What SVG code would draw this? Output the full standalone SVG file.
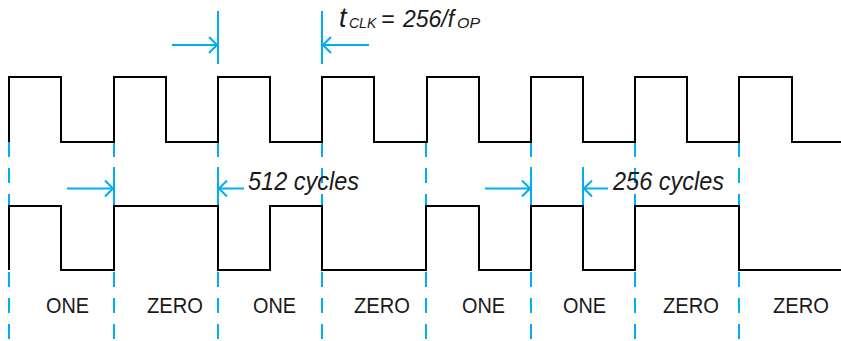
<svg xmlns="http://www.w3.org/2000/svg" width="841" height="341" viewBox="0 0 841 341">
<style>
.wave{fill:none;stroke:#000;stroke-width:2;stroke-linejoin:miter}
.guide{fill:none;stroke:#00AEEF;stroke-width:2;stroke-dasharray:15 11}
.solid{fill:none;stroke:#00AEEF;stroke-width:2}
.lbl{font-family:"Liberation Sans",Arial,sans-serif;font-size:22px;fill:#1a1a1a}
.it{font-family:"Liberation Sans",Arial,sans-serif;font-style:italic;fill:#1a1a1a}
.sub{font-size:14px}
</style>
<defs>
<marker id="ah" viewBox="0 0 10 18" refX="9" refY="9" markerWidth="10" markerHeight="18" markerUnits="userSpaceOnUse" orient="auto">
<path d="M1,1 L9,9 L1,17" fill="none" stroke="#00AEEF" stroke-width="2"/>
</marker>
</defs>
<rect width="841" height="341" fill="#fff"/>
<g id="guides">
<path class="guide" d="M9,142V341M114,142V341M218,142V341M322,142V341M426,142V341M531,142V341M635,142V341M739,142V341"/>
<path class="solid" d="M218,11V64M322,11V64M114,167V206M218,167V206M531,167V206M583,167V206"/>
</g>
<g id="clock-wave">
<path class="wave" d="M9,142V77H61V142H114V77H166V142H218V77H270V142H322V77H374V142H427V77H479V142H531V77H583V142H635V77H687V142H739V77H792V142H841"/>
</g>
<g id="data-wave">
<path class="wave" d="M9,270V206H61V270H114V206H218V270H270V206H322V270H426V206H479V270H531V206H583V270H635V206H739V270H841"/>
</g>
<g id="connectors">
<line class="solid" x1="172" y1="45" x2="217" y2="45" marker-end="url(#ah)"/>
<line class="solid" x1="369" y1="45" x2="323" y2="45" marker-end="url(#ah)"/>
<line class="solid" x1="67" y1="188.5" x2="113" y2="188.5" marker-end="url(#ah)"/>
<line class="solid" x1="244" y1="188.5" x2="219" y2="188.5" marker-end="url(#ah)"/>
<line class="solid" x1="485" y1="188.5" x2="530" y2="188.5" marker-end="url(#ah)"/>
<line class="solid" x1="608" y1="188.5" x2="584" y2="188.5" marker-end="url(#ah)"/>
</g>
<g id="tclk-label">
<text class="it" y="27" font-size="23"><tspan x="339" font-size="27">t</tspan><tspan class="sub" x="349" dy="1">CLK</tspan><tspan x="381" dy="-1">=</tspan><tspan x="403">256/f</tspan><tspan class="sub" x="457" dy="1" textLength="23" lengthAdjust="spacingAndGlyphs">OP</tspan></text>
</g>
<g id="cycle-labels">
<text class="it" x="248" y="190" font-size="25" textLength="111" lengthAdjust="spacingAndGlyphs">512 cycles</text>
<text class="it" x="613" y="190" font-size="25" textLength="111" lengthAdjust="spacingAndGlyphs">256 cycles</text>
</g>
<g id="bit-labels">
<text class="lbl" x="46" y="313" textLength="43" lengthAdjust="spacingAndGlyphs">ONE</text>
<text class="lbl" x="147" y="313" textLength="56" lengthAdjust="spacingAndGlyphs">ZERO</text>
<text class="lbl" x="253" y="313" textLength="43" lengthAdjust="spacingAndGlyphs">ONE</text>
<text class="lbl" x="354" y="313" textLength="56" lengthAdjust="spacingAndGlyphs">ZERO</text>
<text class="lbl" x="462" y="313" textLength="43" lengthAdjust="spacingAndGlyphs">ONE</text>
<text class="lbl" x="563" y="313" textLength="43" lengthAdjust="spacingAndGlyphs">ONE</text>
<text class="lbl" x="663" y="313" textLength="56" lengthAdjust="spacingAndGlyphs">ZERO</text>
<text class="lbl" x="773" y="313" textLength="56" lengthAdjust="spacingAndGlyphs">ZERO</text>
</g>
</svg>
